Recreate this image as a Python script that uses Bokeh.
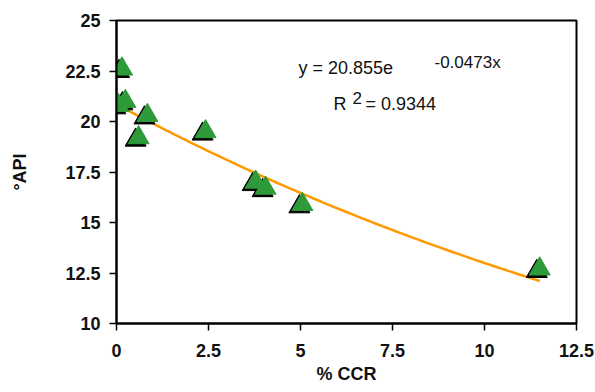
import numpy as np
from bokeh.plotting import figure
from bokeh.models import ColumnDataSource, Range1d, FixedTicker, Label
from bokeh.transform import dodge
from bokeh.embed import file_html
from bokeh.resources import INLINE

# data
ccr = [0.05, 0.24, 0.15, 0.84, 0.60, 2.42, 3.78, 4.05, 5.05, 11.50]
api = [20.8, 21.0, 22.6, 20.3, 19.2, 19.5, 17.0, 16.7, 15.9, 12.7]
fit_a = 20.855
fit_b = -0.0473
x_ticks = [0, 2.5, 5, 7.5, 10, 12.5]
y_ticks = [10, 12.5, 15, 17.5, 20, 22.5, 25]

p = figure(width=595, height=392, output_backend="svg", toolbar_location=None,
           x_range=Range1d(0, 12.5), y_range=Range1d(10, 25),
           min_border_left=116, min_border_right=19, min_border_top=20, min_border_bottom=69)
p.background_fill_color = "white"
p.border_fill_color = "white"
p.outline_line_color = "black"
p.outline_line_width = 2
p.xgrid.visible = False
p.ygrid.visible = False

for ax in (p.xaxis[0], p.yaxis[0]):
    ax.axis_line_width = 2
    ax.axis_line_color = "black"
    ax.major_tick_line_width = 1.5
    ax.major_tick_in = 0
    ax.major_tick_out = 7
    ax.minor_tick_line_color = None
    ax.major_label_text_font = "Liberation Sans"
    ax.major_label_text_font_style = "bold"
    ax.major_label_text_font_size = "18px"
    ax.major_label_text_color = "#111111"
    ax.axis_label_text_font = "Liberation Sans"
    ax.axis_label_text_font_style = "bold"
    ax.axis_label_text_font_size = "18px"
    ax.axis_label_text_color = "#111111"

p.xaxis.ticker = FixedTicker(ticks=x_ticks)
p.yaxis.ticker = FixedTicker(ticks=y_ticks)
p.xaxis.major_label_overrides = {0: "0", 2.5: "2.5", 5: "5", 7.5: "7.5", 10: "10", 12.5: "12.5"}
p.yaxis.major_label_overrides = {10: "10", 12.5: "12.5", 15: "15", 17.5: "17.5", 20: "20", 22.5: "22.5", 25: "25"}
p.xaxis.major_label_standoff = 13
p.yaxis.major_label_standoff = 9
p.xaxis.axis_label = "% CCR"
p.yaxis.axis_label = "°API"
p.xaxis.axis_label_standoff = 4
p.yaxis.axis_label_standoff = 32

# trend line
xs = np.linspace(min(ccr), max(ccr), 100)
ys = fit_a * np.exp(fit_b * xs)
p.line(xs, ys, line_color="#FF9900", line_width=2.5)

src = ColumnDataSource(dict(x=ccr, y=api))
# shadow
p.scatter(x=dodge("x", -0.08, range=p.x_range), y=dodge("y", -0.12, range=p.y_range),
          source=src, marker="triangle", size=21, fill_color="black", line_color="black")
p.scatter(x="x", y="y", source=src, marker="triangle", size=21,
          fill_color="#2E9A3A", line_color="#2E9A3A")

font = "Liberation Sans"
labels = [
    ("y = 20.855e", 182, 256, "18px"),
    ("-0.0473x", 318, 261, "17px"),
    ("R", 217, 220, "18px"),
    ("2", 236, 226, "17px"),
    ("= 0.9344", 249, 220, "18px"),
]
for t, x, y, fs in labels:
    p.add_layout(Label(x=x, y=y, x_units="screen", y_units="screen", text=t,
                       text_font=font, text_font_size=fs, text_color="#111111",
                       text_baseline="alphabetic"))

open("out.html", "w").write(file_html(p, INLINE))
